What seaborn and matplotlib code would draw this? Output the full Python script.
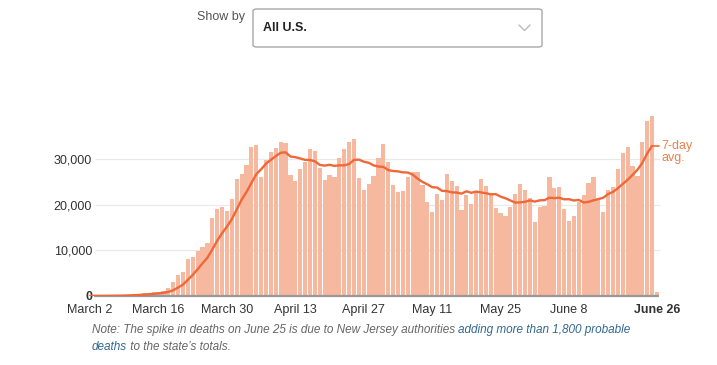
import seaborn as sns
import matplotlib.pyplot as plt
import pandas as pd
import numpy as np
from matplotlib.patches import FancyBboxPatch
from matplotlib.lines import Line2D

sns.set_style("white")
plt.rcParams['font.family'] = ['Liberation Sans', 'DejaVu Sans']

# Daily new cases, March 2 - June 26
dates = pd.date_range("2020-03-02", "2020-06-26")
daily_cases = [
    20, 25, 30, 70, 80, 110, 110, 180, 290, 390, 470, 560, 640, 770, 900, 1150,
    1700, 3100, 4600, 5300, 8000, 8500, 9800, 10800, 11700, 17000, 19000, 19400,
    18600, 21200, 25600, 26800, 28700, 32700, 33000, 26100, 29800, 31600, 32400,
    33800, 33400, 26500, 25200, 27800, 29400, 32200, 31800, 27900, 25400, 26500,
    26100, 30300, 32100, 33800, 34300, 25800, 23300, 24500, 26300, 30300, 33300,
    29400, 24300, 22800, 23000, 26000, 27200, 27200, 24300, 20600, 18400, 22400,
    21000, 26800, 25200, 24100, 18900, 22000, 20100, 22800, 25500, 24100, 22300,
    19300, 18100, 17600, 19400, 22300, 24400, 23200, 21400, 16300, 19500, 19700,
    26100, 23700, 23800, 19000, 16500, 17500, 20600, 22100, 24700, 26100, 21000,
    18400, 23300, 23800, 27800, 31200, 32500, 28400, 26300, 33800, 38300, 39400,
    950,
]
tick_days = [0, 14, 28, 42, 56, 70, 84, 98, 116]
tick_labels = ["March 2", "March 16", "March 30", "April 13", "April 27",
               "May 11", "May 25", "June 8", "June 26"]
ytick_vals = [0, 10000, 20000, 30000]
ytick_labels = ["0", "10,000", "20,000", "30,000"]

BAR = "#f7b8a0"
LINE = "#ee6838"
LABEL = "#e9824f"

df = pd.DataFrame({"day": np.arange(len(daily_cases)), "date": dates, "cases": daily_cases})
df["avg"] = df["cases"].rolling(7, min_periods=1).mean()
avg_df = df.iloc[:-1]  # last day is partial

W, H = 717, 365
fig = plt.figure(figsize=(W / 100, H / 100), dpi=100)
ax = fig.add_axes([87.7 / W, 69 / H, 571.7 / W, 182.8 / H])

ax.hlines(ytick_vals[1:], 1.0, 116.6, color="#e9e9e9", lw=0.9, zorder=0, clip_on=False)
sns.barplot(data=df, x="day", y="cases", color=BAR, width=0.86, saturation=1,
            linewidth=0, ax=ax, zorder=2)
sns.lineplot(data=avg_df, x="day", y="avg", color=LINE, lw=1.7, ax=ax, zorder=4)
ax.hlines(0, 0.8, 116.5, color="#999999", lw=1.6, zorder=3, clip_on=False)

ax.set_xlim(-0.5, 116.5)
ax.set_ylim(0, 40000)
sns.despine(ax=ax, left=True, bottom=True)
ax.set_xlabel("")
ax.set_ylabel("")

ax.set_xticks(tick_days)
ax.set_xticklabels(tick_labels)
ax.set_yticks(ytick_vals)
ax.set_yticklabels(ytick_labels)
ax.tick_params(axis="x", length=0, pad=6, labelsize=9, labelcolor="#333333")
ax.tick_params(axis="y", length=0, pad=-3.2, labelsize=9, labelcolor="#333333")
ax.get_xticklabels()[-1].set_fontweight("bold")
ax.get_yticklabels()[0].set_fontweight("bold")

# 7-day avg label
last_avg = avg_df["avg"].iloc[-1]
ax.plot([115, 116.4], [last_avg, last_avg], color=LINE, lw=1.2, clip_on=False, zorder=4)
ax.annotate("7-day", (117.0, last_avg), xytext=(0, 0), textcoords="offset points",
            color=LABEL, fontsize=9, va="center", ha="left", annotation_clip=False)
ax.annotate("avg.", (117.0, last_avg), xytext=(0, -9), textcoords="offset points",
            color=LABEL, fontsize=9, va="center", ha="left", annotation_clip=False)

# "Show by" dropdown
fig.text(197 / W, 1 - 17 / H, "Show by", fontsize=9, color="#555555", va="center")
box = FancyBboxPatch((253 / W, 1 - 47 / H), 289 / W, 38 / H,
                     boxstyle="round,pad=0,rounding_size=0.005",
                     transform=fig.transFigure, ec="#a8a8a8", fc="white", lw=1)
fig.add_artist(box)
fig.text(263 / W, 1 - 28 / H, "All U.S.", fontsize=9, color="#222222", va="center",
         fontweight="bold")
fig.add_artist(Line2D(np.array([519, 524.5, 530]) / W,
                      1 - np.array([25, 30.5, 25]) / H,
                      transform=fig.transFigure, color="#bbbbbb", lw=1))

# note under the chart, with the link part in blue
renderer = fig.canvas.get_renderer()
GRAY, BLUE = "#666666", "#326891"


def draw_runs(x_px, y_px, runs):
    x = x_px / W
    for txt, col in runs:
        t = fig.text(x, 1 - y_px / H, txt, color=col, fontsize=8.5, style="italic",
                     va="center", ha="left")
        x = t.get_window_extent(renderer).x1 / W


draw_runs(92, 330, [("Note: The spike in deaths on June 25 is due to New Jersey authorities ", GRAY),
                    ("adding more than 1,800 probable", BLUE)])
draw_runs(92, 347, [("deaths", BLUE), (" to the state\u2019s totals.", GRAY)])

fig.savefig("out.png", dpi=100)
plt.close(fig)
